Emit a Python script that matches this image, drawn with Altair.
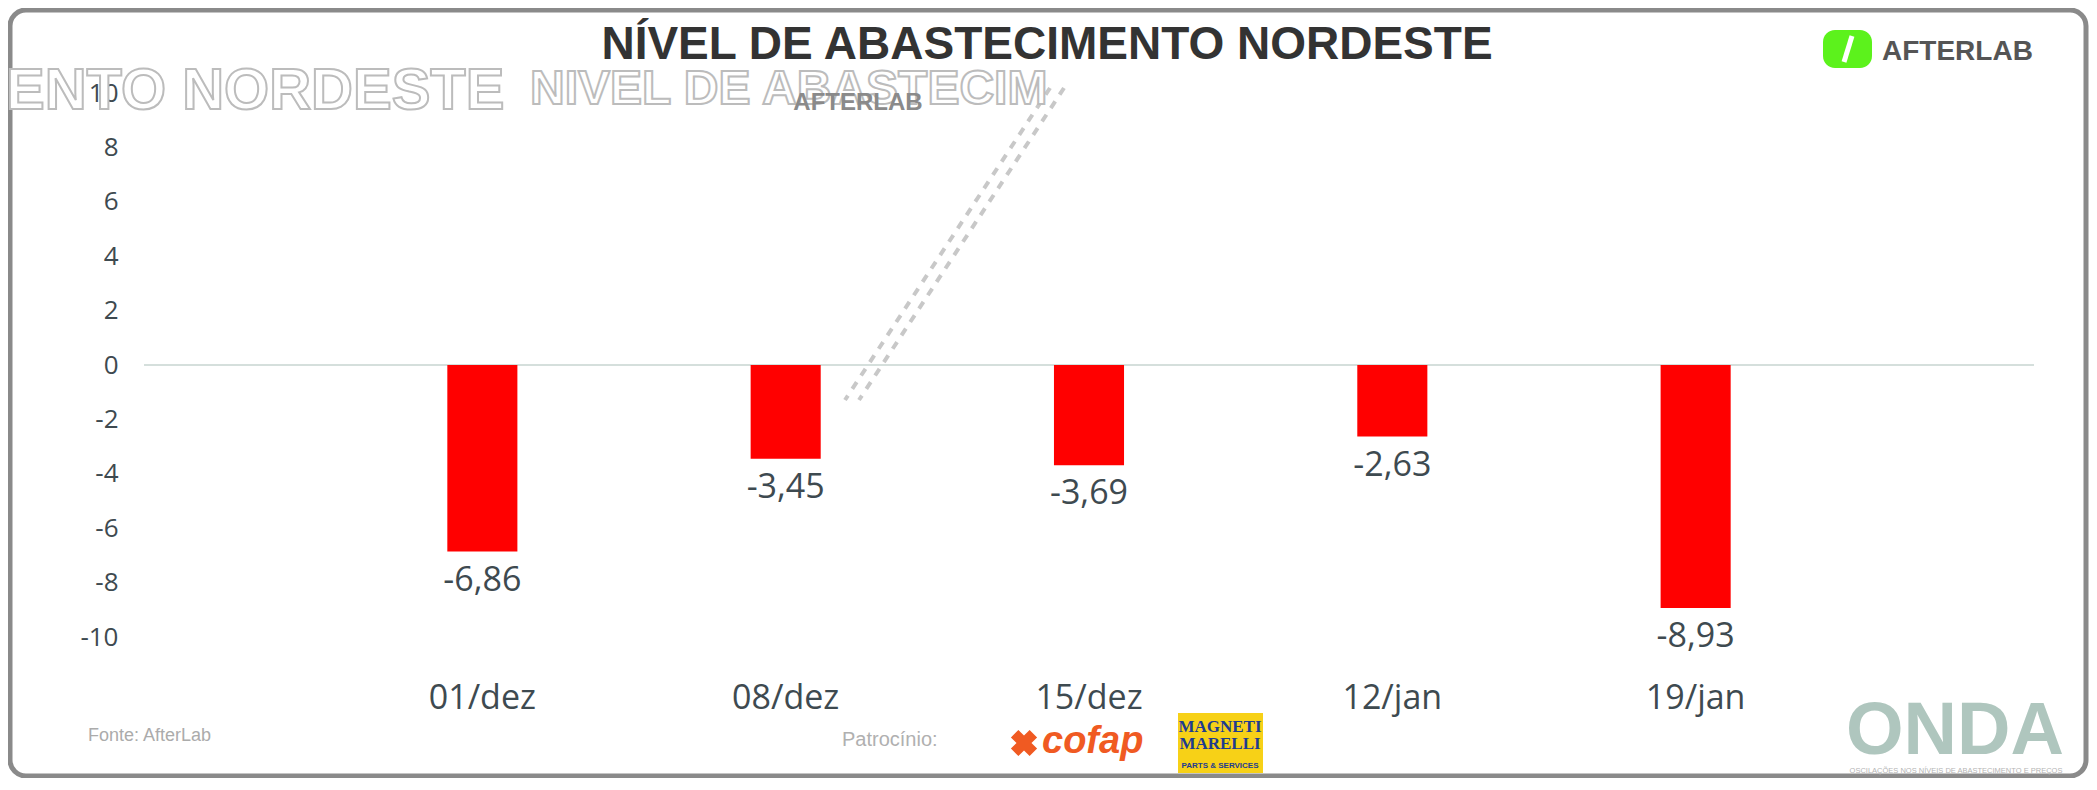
import altair as alt
import pandas as pd

# ---------------- data ----------------
categories = ["01/dez", "08/dez", "15/dez", "12/jan", "19/jan"]
values = [-6.86, -3.45, -3.69, -2.63, -8.93]
y_ticks = [-10, -8, -6, -4, -2, 0, 2, 4, 6, 8, 10]
title_text = "NÍVEL DE ABASTECIMENTO NORDESTE"

labels = [f"{v:.2f}".replace(".", ",") for v in values]
df = pd.DataFrame({"semana": categories, "valor": values, "rotulo": labels})
zero_df = pd.DataFrame({"z": [0]})
one = pd.DataFrame({"k": [0]})

# ---------------- layout ----------------
W, H = 1890, 544
OX, OY = 144, 93  # page position of plot origin


def px(x):
    return x - OX


def py(y):
    return y - OY


FONT = "Open Sans"
TXT = "#3e4a50"

x_enc = alt.X(
    "semana:N",
    sort=categories,
    scale=alt.Scale(paddingInner=0.769, paddingOuter=1.0),
    axis=alt.Axis(
        title=None, labelAngle=0, domain=False, ticks=False, tickSize=0,
        labelPadding=44, labelFontSize=34, labelFont=FONT, labelColor=TXT,
        labelBaseline="top",
    ),
)
y_enc = alt.Y(
    "valor:Q",
    scale=alt.Scale(domain=[-10, 10], nice=False),
    axis=alt.Axis(
        title=None, values=y_ticks, domain=False, ticks=False, tickSize=0,
        grid=False, labelPadding=26, labelFontSize=26, labelFont=FONT,
        labelColor=TXT, labelExpr="datum.value + ''",
    ),
)

zero_line = alt.Chart(zero_df).mark_rule(color="#d5dfdc", strokeWidth=2).encode(
    y=alt.Y("z:Q")
)

bars = alt.Chart(df).mark_bar(color="#ff0000").encode(x=x_enc, y=y_enc)

bar_labels = alt.Chart(df).mark_text(
    baseline="top", dy=12, fontSize=34, font=FONT, color=TXT
).encode(x=x_enc, y=y_enc, text="rotulo:N")


def deco_text(text, x, y, **kw):
    return alt.Chart(one).mark_text(text=text, **kw).encode(
        x=alt.value(px(x)), y=alt.value(py(y))
    )


frame = alt.Chart(one).mark_rect(
    fillOpacity=0, stroke="#8a8a8a", strokeWidth=5, cornerRadius=16
).encode(
    x=alt.value(px(10)), x2=alt.value(px(2086)),
    y=alt.value(py(10)), y2=alt.value(py(776)),
)

# ghost (glitch) texts behind the title
ghost_left = deco_text("ENTO NORDESTE", 6, 92, font="Liberation Sans", fontWeight="bold",
                       fontSize=58, align="left", baseline="middle",
                       fill="#ffffff", stroke="#bcbcbc", strokeWidth=2)
ghost_mid = deco_text("NIVEL DE ABASTECIM", 530, 90, font="Liberation Sans", fontWeight="bold",
                      fontSize=48, align="left", baseline="middle",
                      fill="#ffffff", stroke="#bcbcbc", strokeWidth=2)
ghost_after = deco_text("AFTERLAB", 858, 103, font="Liberation Sans", fontWeight="bold",
                        fontSize=24, align="center", baseline="middle", color="#8a8a8a")

dots1 = alt.Chart(one).mark_rule(color="#c8c8c8", strokeWidth=4, strokeDash=[8, 8]).encode(
    x=alt.value(px(1050)), x2=alt.value(px(845)), y=alt.value(py(88)), y2=alt.value(py(400))
)
dots2 = alt.Chart(one).mark_rule(color="#c8c8c8", strokeWidth=4, strokeDash=[8, 8]).encode(
    x=alt.value(px(1064)), x2=alt.value(px(859)), y=alt.value(py(88)), y2=alt.value(py(400))
)

title = deco_text(title_text, 1047, 45, font="Liberation Sans", fontWeight="bold",
                  fontSize=46, align="center", baseline="middle", color="#333333")

# AFTERLAB logo
logo_green = alt.Chart(one).mark_rect(color="#5cf21c", cornerRadius=12).encode(
    x=alt.value(px(1823)), x2=alt.value(px(1872)), y=alt.value(py(30)), y2=alt.value(py(68))
)
logo_slit = alt.Chart(one).mark_rule(color="#ffffff", strokeWidth=5).encode(
    x=alt.value(px(1852)), x2=alt.value(px(1844)), y=alt.value(py(36)), y2=alt.value(py(62))
)
logo_text = deco_text("AFTERLAB", 1882, 52, font="Liberation Sans", fontWeight="bold",
                      fontSize=28, align="left", baseline="middle", color="#555555")

# footer
fonte = deco_text("Fonte: AfterLab", 88, 736, font="Liberation Sans", fontSize=18,
                  align="left", baseline="middle", color="#ababab")
patroc = deco_text("Patrocínio:", 842, 740, font="Liberation Sans", fontSize=20,
                   align="left", baseline="middle", color="#b0b0b0")
cofap_mark = alt.Chart(one).mark_point(shape="cross", angle=45, filled=True, size=700,
                                       color="#f05a22", opacity=1).encode(
    x=alt.value(px(1024)), y=alt.value(py(743))
)
cofap_text = deco_text("cofap", 1042, 742, font="Liberation Sans", fontWeight="bold",
                       fontStyle="italic", fontSize=38, align="left", baseline="middle",
                       color="#f05a22")
mm_box = alt.Chart(one).mark_rect(color="#f7d117").encode(
    x=alt.value(px(1178)), x2=alt.value(px(1263)), y=alt.value(py(713)), y2=alt.value(py(773))
)
mm1 = deco_text("MAGNETI", 1220, 727, font="Liberation Sans Narrow", fontWeight="bold",
                fontSize=17, align="center", baseline="middle", color="#1f3c8f")
mm2 = deco_text("MARELLI", 1220, 744, font="Liberation Sans Narrow", fontWeight="bold",
                fontSize=17, align="center", baseline="middle", color="#1f3c8f")
mm3 = deco_text("PARTS & SERVICES", 1220, 766, font="Liberation Sans", fontWeight="bold",
                fontSize=8, align="center", baseline="middle", color="#1f3c8f")

onda = deco_text("ONDA", 1955, 732, font="Liberation Sans", fontWeight="bold",
                 fontSize=74, align="center", baseline="middle", color="#afc6be")
onda_sub = deco_text("OSCILAÇÕES NOS NÍVEIS DE ABASTECIMENTO E PREÇOS", 1956, 771,
                     font="Liberation Sans", fontSize=7.5, align="center",
                     baseline="middle", color="#b5b5b5")

chart = alt.layer(
    frame, dots1, dots2, ghost_left, ghost_mid, ghost_after,
    zero_line, bars, bar_labels, title,
    logo_green, logo_slit, logo_text,
    fonte, patroc, cofap_mark, cofap_text, mm_box, mm1, mm2, mm3, onda, onda_sub,
).resolve_scale(y="shared").properties(
    width=W, height=H,
    background="#ffffff",
    autosize=alt.AutoSizeParams(type="none"),
    padding={"left": OX - 8, "top": OY - 8, "right": 2081 - (OX - 8) - W, "bottom": 770 - (OY - 8) - H},
).configure_view(stroke="transparent", strokeWidth=0)

chart.save("out.html", embed_options={"renderer": "svg", "actions": False})
